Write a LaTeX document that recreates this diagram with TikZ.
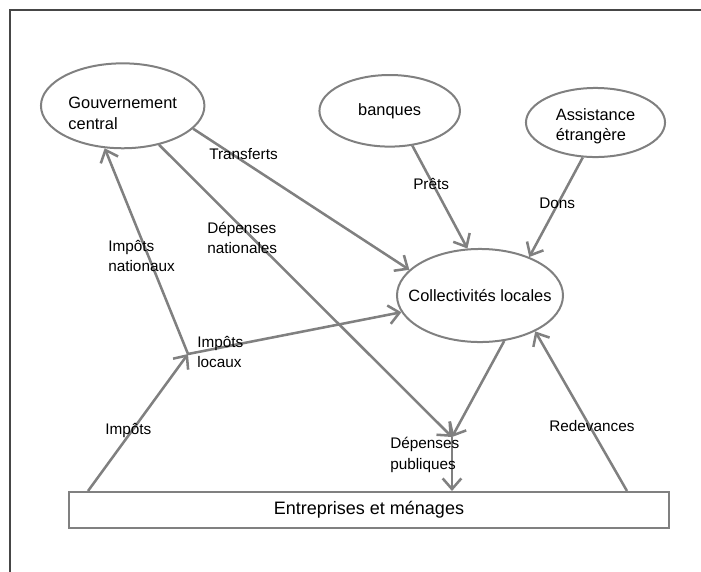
\documentclass[tikz,border=0pt]{standalone}
\usepackage{fontspec}
\setmainfont{Liberation Sans}
\usepackage{tikz}
\usetikzlibrary{arrows.meta,shapes.geometric}
\definecolor{traitgris}{RGB}{128,128,128}
\definecolor{cadregris}{RGB}{70,70,70}

\begin{document}
\begin{tikzpicture}[
    x=0.75pt, y=-0.75pt,
    bulle/.style={ellipse, draw=traitgris, line width=1.5pt, inner sep=0pt, align=left, font=\fontsize{12.3}{15.5}\selectfont},
    boite/.style={rectangle, draw=traitgris, line width=1.5pt, minimum width=450pt, minimum height=27pt, font=\fontsize{13.5}{16}\selectfont},
    etiquette/.style={anchor=west, inner sep=0pt, align=left, font=\fontsize{11.5}{15.5}\selectfont},
    fleche/.style={-{Straight Barb[length=8pt, width=14pt]}, draw=traitgris, line width=1.9pt}
]
    \useasboundingbox (0,0) rectangle (701,572);
    \draw[cadregris, line width=0.8pt] (10,572) -- (10,10) -- (701,10);

    % les acteurs
    \node[bulle, minimum width=122.6pt, minimum height=63.7pt, text height=35.5pt] (gouv) at (122.7,105.8) {Gouvernement\\central};
    \node[bulle, minimum width=105.4pt, minimum height=53.7pt] (banques) at (389.7,110.8) {banques};
    \node[bulle, minimum width=104.3pt, minimum height=51.8pt, text height=30pt] (assist) at (595.5,122.5) {Assistance\\étrangère};
    \node[bulle, minimum width=124.5pt, minimum height=69.8pt, inner xsep=-12pt] (coll) at (480,295.5) {Collectivités locales};
    \node[boite] (ent) at (369,510) {Entreprises et ménages};

    \coordinate (jonction) at (188,354);
    \coordinate (depenses) at (452,437);

    % les flux
    \draw[fleche] ([xshift=15pt]ent.north west) -- (jonction);
    \draw[fleche] (jonction) -- (gouv.247.3);
    \draw[fleche] (jonction) -- (coll.192.2);
    \draw[fleche] (gouv.342.4) -- (coll.160.7);
    \draw[fleche] (gouv.313.7) -- (depenses);
    \draw[fleche] (banques.303.5) -- (coll.105.3);
    \draw[fleche] (assist.250.2) -- (coll.38.2);
    \draw[fleche] (coll.298.8) -- (depenses);
    \draw[fleche] (depenses) -- ([xshift=62.25pt]ent.north);
    \draw[fleche] ([xshift=-32.25pt]ent.north east) -- (coll.327.8);

    % les libellés
    \node[etiquette] (l-transferts) at (209,154) {Transferts};
    \node[etiquette] (l-depnat) at (207,238) {Dépenses\\nationales};
    \node[etiquette] (l-impnat) at (108,256) {Impôts\\nationaux};
    \node[etiquette] (l-imploc) at (197,352) {Impôts\\locaux};
    \node[etiquette] (l-impots) at (105,431) {Impôts};
    \node[etiquette] (l-prets) at (413,184) {Prêts};
    \node[etiquette] (l-dons) at (539,203) {Dons};
    \node[etiquette] (l-deppub) at (390,455) {Dépenses\\publiques};
    \node[etiquette] (l-redev) at (549,426) {Redevances};
\end{tikzpicture}
\end{document}
